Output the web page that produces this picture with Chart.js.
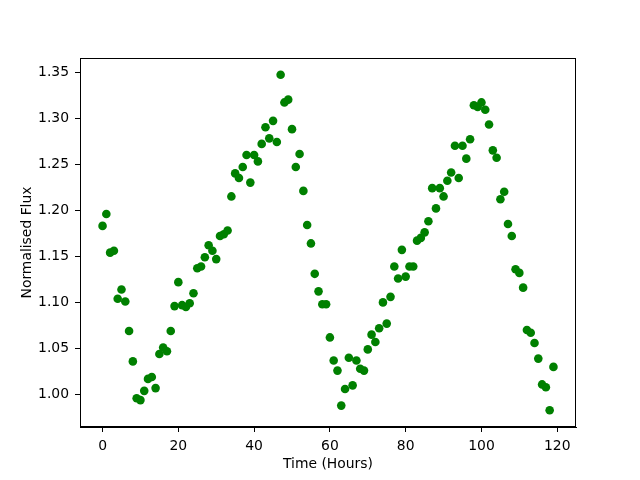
<!DOCTYPE html>
<html>
<head>
<meta charset="utf-8">
<script src="https://cdn.jsdelivr.net/npm/chart.js@4.4.1/dist/chart.umd.min.js"></script>
<style>
    html, body { margin: 0; padding: 0; background: #fff; }
    #wrap { width: 640px; height: 480px; }
</style>
</head>
<body>
<div id="wrap"><canvas id="flux-chart" width="640" height="480"></canvas></div>
<script>
// ============================================================
// Datos
// ============================================================
const hours = [
    0, 1, 2, 3, 4, 5, 6, 7, 8, 9,
    10, 11, 12, 13, 14, 15, 16, 17, 18, 19,
    20, 21, 22, 23, 24, 25, 26, 27, 28, 29,
    30, 31, 32, 33, 34, 35, 36, 37, 38, 39,
    40, 41, 42, 43, 44, 45, 46, 47, 48, 49,
    50, 51, 52, 53, 54, 55, 56, 57, 58, 59,
    60, 61, 62, 63, 64, 65, 66, 67, 68, 69,
    70, 71, 72, 73, 74, 75, 76, 77, 78, 79,
    80, 81, 82, 83, 84, 85, 86, 87, 88, 89,
    90, 91, 92, 93, 94, 95, 96, 97, 98, 99,
    100, 101, 102, 103, 104, 105, 106, 107, 108, 109,
    110, 111, 112, 113, 114, 115, 116, 117, 118, 119
];

const flux = [
    1.183, 1.196, 1.154, 1.156, 1.104, 1.114, 1.101, 1.069, 1.036, 0.996,
    0.994, 1.004, 1.017, 1.019, 1.007, 1.044, 1.051, 1.047, 1.069, 1.096,
    1.122, 1.097, 1.095, 1.099, 1.110, 1.137, 1.139, 1.149, 1.162, 1.156,
    1.147, 1.172, 1.174, 1.178, 1.215, 1.240, 1.235, 1.247, 1.260, 1.230,
    1.260, 1.253, 1.272, 1.290, 1.278, 1.297, 1.274, 1.347, 1.317, 1.320,
    1.288, 1.247, 1.261, 1.221, 1.184, 1.164, 1.131, 1.112, 1.098, 1.098,
    1.062, 1.037, 1.026, 0.988, 1.006, 1.040, 1.010, 1.037, 1.028, 1.026,
    1.049, 1.065, 1.057, 1.072, 1.100, 1.077, 1.106, 1.139, 1.126, 1.157,
    1.128, 1.139, 1.139, 1.167, 1.170, 1.176, 1.188, 1.224, 1.202, 1.224,
    1.215, 1.232, 1.241, 1.270, 1.235, 1.270, 1.256, 1.277, 1.314, 1.312,
    1.317, 1.309, 1.293, 1.265, 1.257, 1.212, 1.220, 1.185, 1.172, 1.136,
    1.132, 1.116, 1.070, 1.067, 1.056, 1.039, 1.011, 1.008, 0.983, 1.030
];

const xTicks = [0, 20, 40, 60, 80, 100, 120];
const yTicks = [1.00, 1.05, 1.10, 1.15, 1.20, 1.25, 1.30, 1.35];

// ============================================================
// Estilos
// ============================================================
const FONT = { family: "'DejaVu Sans', sans-serif", size: 13.9 };
const GREEN = '#008000';

// marco completo del área (matplotlib dibuja los 4 lados)
const framePlugin = {
    id: 'frame',
    afterDatasetsDraw: (chart) => {
        const { ctx, chartArea: a } = chart;
        ctx.save();
        ctx.strokeStyle = '#000';
        ctx.lineWidth = 1;
        ctx.strokeRect(a.left + 0.5, a.top + 0.5, a.right - a.left - 1, a.bottom - a.top - 1);
        ctx.restore();
    }
};

const axisCommon = {
    type: 'linear',
    grid: { display: true, drawOnChartArea: false, drawTicks: true, tickLength: 5, color: '#000' },
    border: { display: true, color: '#000', width: 1 },
};

new Chart(document.getElementById('flux-chart'), {
    type: 'scatter',
    data: {
        datasets: [{
            data: hours.map((h, i) => ({ x: h, y: flux[i] })),
            backgroundColor: GREEN,
            borderColor: GREEN,
            borderWidth: 0,
            pointRadius: 4.3,
            pointHoverRadius: 4.3
        }]
    },
    options: {
        responsive: false,
        animation: false,
        devicePixelRatio: 1,
        layout: { padding: { top: 58, right: 64, left: 0, bottom: 0 } },
        plugins: {
            legend: { display: false },
            tooltip: { enabled: false }
        },
        scales: {
            x: {
                ...axisCommon,
                min: -5.95,
                max: 124.95,
                afterBuildTicks: (scale) => { scale.ticks = xTicks.map(v => ({ value: v })); },
                afterFit: (scale) => { scale.height = 53; },
                ticks: { color: '#000', font: FONT, padding: 6, maxRotation: 0 },
                title: { display: true, text: 'Time (Hours)', color: '#000', font: FONT, padding: { top: 7, bottom: 7 } }
            },
            y: {
                ...axisCommon,
                min: 0.9648,
                max: 1.3652,
                afterBuildTicks: (scale) => { scale.ticks = yTicks.map(v => ({ value: v })); },
                afterFit: (scale) => { scale.width = 80; },
                ticks: { color: '#000', font: FONT, padding: 6, callback: (v) => Number(v).toFixed(2) },
                title: { display: true, text: 'Normalised Flux', color: '#000', font: FONT, padding: { top: 19, bottom: 0 } }
            }
        }
    },
    plugins: [framePlugin]
});
</script>
</body>
</html>
